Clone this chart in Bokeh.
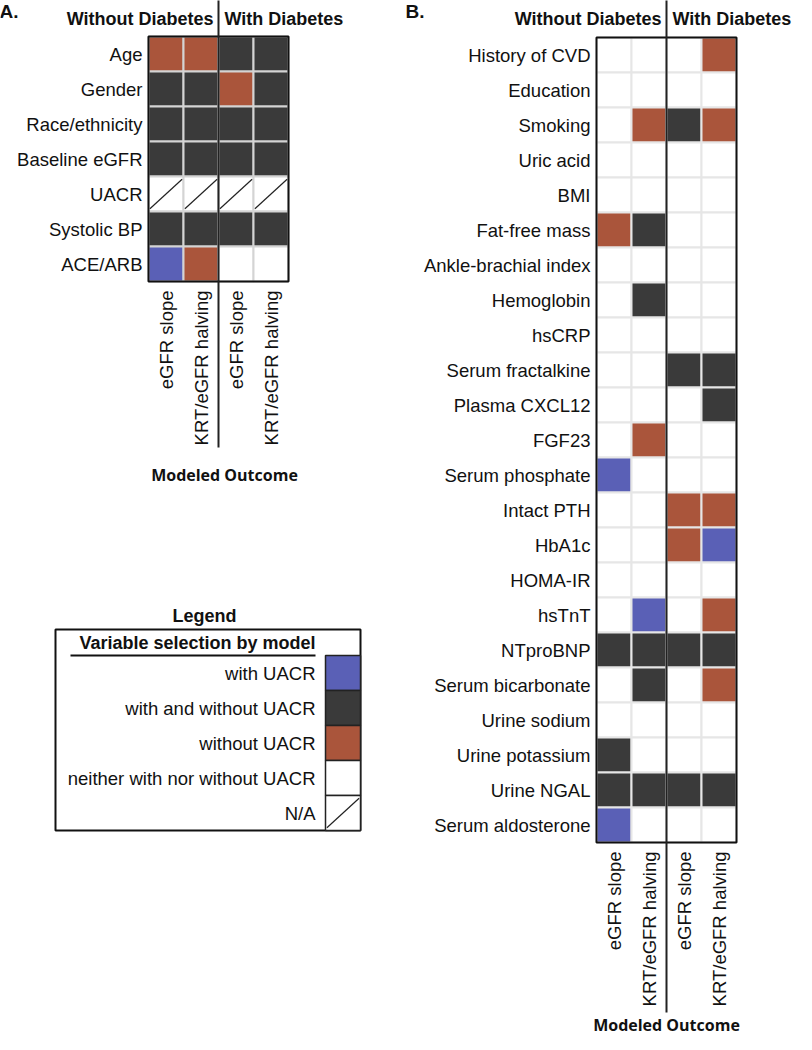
import math
from bokeh.plotting import figure
from bokeh.models import Range1d, ColumnDataSource
from bokeh.core.properties import value
from bokeh.embed import file_html
from bokeh.resources import INLINE

FONT = "Liberation Sans"
FONT2 = "Open Sans"

# ---------------- data ----------------
groups = ["Without Diabetes", "With Diabetes"]
outcomes = ["eGFR slope", "KRT/eGFR halving"]

# codes: B = with UACR, D = with and without UACR, R = without UACR,
#        N = neither with nor without UACR, X = N/A
a_vars = ["Age", "Gender", "Race/ethnicity", "Baseline eGFR", "UACR", "Systolic BP", "ACE/ARB"]
a_nodm_slope = ["R", "D", "D", "D", "X", "D", "B"]
a_nodm_krt = ["R", "D", "D", "D", "X", "D", "R"]
a_dm_slope = ["D", "R", "D", "D", "X", "D", "N"]
a_dm_krt = ["D", "D", "D", "D", "X", "D", "N"]

b_vars = ["History of CVD", "Education", "Smoking", "Uric acid", "BMI", "Fat-free mass",
          "Ankle-brachial index", "Hemoglobin", "hsCRP", "Serum fractalkine", "Plasma CXCL12",
          "FGF23", "Serum phosphate", "Intact PTH", "HbA1c", "HOMA-IR", "hsTnT", "NTproBNP",
          "Serum bicarbonate", "Urine sodium", "Urine potassium", "Urine NGAL", "Serum aldosterone"]
b_nodm_slope = ["N", "N", "N", "N", "N", "R", "N", "N", "N", "N", "N", "N", "B", "N", "N", "N", "N", "D", "N", "N", "D", "D", "B"]
b_nodm_krt = ["N", "N", "R", "N", "N", "D", "N", "D", "N", "N", "N", "R", "N", "N", "N", "N", "B", "D", "D", "N", "N", "D", "N"]
b_dm_slope = ["N", "N", "D", "N", "N", "N", "N", "N", "N", "D", "N", "N", "N", "R", "R", "N", "N", "D", "N", "N", "N", "D", "N"]
b_dm_krt = ["R", "N", "R", "N", "N", "N", "N", "N", "N", "D", "D", "N", "N", "R", "B", "N", "R", "D", "R", "N", "N", "D", "N"]

legend_title = "Variable selection by model"
legend_labels = ["with UACR", "with and without UACR", "without UACR",
                 "neither with nor without UACR", "N/A"]
legend_codes = ["B", "D", "R", "N", "X"]

palette = {"B": "#5a60b6", "D": "#3a3a3a", "R": "#aa553b", "N": "#ffffff", "X": "#ffffff"}

# ---------------- layout constants (page pixels) ----------------
CELL = 35
W, H = 796, 1034
INK = "#111111"
BODY = 18.5

p = figure(width=W, height=H, output_backend="svg", toolbar_location=None,
           x_range=Range1d(8, 8 + W), y_range=Range1d(8 + H, 8),
           min_border=0, min_border_left=0, min_border_right=0,
           min_border_top=0, min_border_bottom=0)
p.axis.visible = False
p.xgrid.visible = False
p.ygrid.visible = False
p.outline_line_color = None
p.background_fill_color = "white"
p.border_fill_color = "white"


def txt(xs, ys, texts, size, bold=False, align="left", baseline="middle", angle=0.0,
        font=FONT):
    src = ColumnDataSource(dict(x=list(xs), y=list(ys), t=list(texts)))
    p.text(x="x", y="y", text="t", source=src, text_font=value(font),
           text_font_size=value(f"{size}px"),
           text_font_style="bold" if bold else "normal",
           text_align=align, text_baseline=baseline, angle=angle, text_color=INK)


def panel(vars_, cols, x0, y0, grid_line, letter, letter_x, sep_bottom, mo_x, mo_y,
          xlab_gap=9):
    nrows = len(vars_)
    ncols = len(cols)
    xs, ys, cs = [], [], []
    nx0, ny0, nx1, ny1 = [], [], [], []
    for ci, col in enumerate(cols):
        for ri, code in enumerate(col):
            cx = x0 + (ci + 0.5) * CELL
            cy = y0 + (ri + 0.5) * CELL
            xs.append(cx)
            ys.append(cy)
            cs.append(palette[code])
            if code == "X":
                nx0.append(cx - 0.46 * CELL)
                ny0.append(cy + 0.42 * CELL)
                nx1.append(cx + 0.46 * CELL)
                ny1.append(cy - 0.42 * CELL)
    p.rect(x=xs, y=ys, width=CELL, height=CELL, fill_color=cs,
           line_color=grid_line, line_width=2)
    if nx0:
        p.segment(x0=nx0, y0=ny0, x1=nx1, y1=ny1, line_color="#222222", line_width=1.2)
    # outer border
    p.rect(x=[x0 + ncols * CELL / 2], y=[y0 + nrows * CELL / 2],
           width=ncols * CELL, height=nrows * CELL, fill_alpha=0,
           line_color=INK, line_width=2)
    # row labels
    txt([x0 - 6] * nrows, [y0 + (i + 0.5) * CELL for i in range(nrows)], vars_, BODY,
        align="right")
    # column labels (rotated)
    col_names = [o for g in groups for o in outcomes]
    txt([x0 + (i + 0.5) * CELL for i in range(ncols)], [y0 + nrows * CELL + xlab_gap] * ncols,
        col_names, BODY, align="right", angle=math.pi / 2)
    # separator between groups
    sx = x0 + 2 * CELL
    p.segment(x0=[sx], y0=[3], x1=[sx], y1=[sep_bottom], line_color="#222222", line_width=2)
    # headers
    txt([sx - 5], [26], [groups[0]], 18, bold=True, align="right")
    txt([sx + 6], [26], [groups[1]], 18, bold=True, align="left")
    txt([letter_x], [19], [letter], 19, bold=True, align="left")
    txt([mo_x], [mo_y], ["Modeled Outcome"], 16, bold=True, align="center", font=FONT2)


panel(a_vars, [a_nodm_slope, a_nodm_krt, a_dm_slope, a_dm_krt], 156, 44, "#d4d4d4",
      "A.", 7, 455, 232, 482)
panel(b_vars, [b_nodm_slope, b_nodm_krt, b_dm_slope, b_dm_krt], 604, 45, "#e6e6e6",
      "B.", 413, 1020, 674, 1032)

# ---------------- legend ----------------
LX0, LX1, LY0 = 63, 368, 637
SW_X0, SW_Y0 = LX1 - CELL, 663
n_leg = len(legend_labels)
LY1 = SW_Y0 + n_leg * CELL
txt([(LX0 + LX1) / 2 - 3.5], [623], ["Legend"], 18, bold=True, align="center")
p.rect(x=[(LX0 + LX1) / 2], y=[(LY0 + LY1) / 2], width=LX1 - LX0, height=LY1 - LY0,
       fill_alpha=0, line_color=INK, line_width=2)
txt([SW_X0 - 10], [650], [legend_title], 18, bold=True, align="right")
p.segment(x0=[78], y0=[SW_Y0], x1=[SW_X0 - 10], y1=[SW_Y0], line_color=INK, line_width=2)
sw_y = [SW_Y0 + (i + 0.5) * CELL for i in range(n_leg)]
p.rect(x=[SW_X0 + CELL / 2] * n_leg, y=sw_y, width=CELL, height=CELL,
       fill_color=[palette[c] for c in legend_codes], line_color="#222222", line_width=1.5)
na_i = legend_codes.index("X")
p.segment(x0=[SW_X0 + 0.04 * CELL], y0=[sw_y[na_i] + 0.42 * CELL],
          x1=[SW_X0 + 0.96 * CELL], y1=[sw_y[na_i] - 0.42 * CELL],
          line_color="#222222", line_width=1.2)
txt([SW_X0 - 10] * n_leg, sw_y, legend_labels, BODY, align="right")

open("out.html", "w").write(file_html(p, INLINE))
